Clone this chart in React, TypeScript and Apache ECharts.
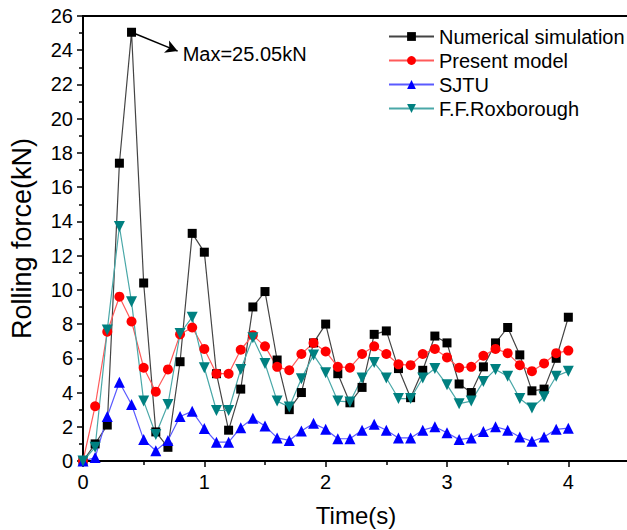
import React, { useEffect, useRef } from "react";
import * as echarts from "echarts";

const times = [
  0, 0.1, 0.2, 0.3, 0.4, 0.5, 0.6, 0.7, 0.8, 0.9, 1.0, 1.1, 1.2, 1.3, 1.4, 1.5, 1.6, 1.7, 1.8, 1.9, 2.0,
  2.1, 2.2, 2.3, 2.4, 2.5, 2.6, 2.7, 2.8, 2.9, 3.0, 3.1, 3.2, 3.3, 3.4, 3.5, 3.6, 3.7, 3.8, 3.9, 4.0,
];

const numericalSimulation = [
  0, 1.0, 2.1, 17.4, 25.05, 10.4, 1.7, 0.8, 5.8, 13.3, 12.2, 5.1, 1.8, 4.2, 9.0, 9.9, 5.9, 3.0, 4.0, 6.9, 8.0,
  5.1, 3.4, 4.3, 7.4, 7.6, 5.4, 3.7, 5.3, 7.3, 6.9, 4.5, 4.0, 5.5, 6.9, 7.8, 6.2, 4.1, 4.2, 6.0, 8.4,
];

const presentModel = [
  0, 3.2, 7.55, 9.6, 8.15, 5.45, 4.05, 5.35, 7.4, 7.8, 6.55, 5.1, 5.1, 6.5, 7.35, 6.7, 5.5, 5.3, 6.25, 6.9, 6.4,
  5.5, 5.45, 6.25, 6.7, 6.25, 5.65, 5.6, 6.25, 6.55, 6.05, 5.45, 5.5, 6.15, 6.55, 6.3, 5.6, 5.25, 5.7, 6.3, 6.45,
];

const sjtu = [
  0, 0.2, 2.6, 4.6, 3.3, 1.25, 0.6, 1.2, 2.6, 2.9, 1.9, 1.1, 1.1, 1.95, 2.5, 2.05, 1.35, 1.2, 1.75, 2.2, 1.85,
  1.3, 1.3, 1.8, 2.15, 1.8, 1.35, 1.35, 1.8, 2.0, 1.65, 1.25, 1.35, 1.72, 2.0, 1.8, 1.4, 1.15, 1.4, 1.85, 1.92,
];

const roxborough = [
  0, 0.8, 7.65, 13.7, 9.3, 3.5, 1.55, 3.3, 7.45, 8.4, 5.45, 2.95, 2.95, 5.35, 7.2, 5.7, 3.5, 3.15, 4.8, 6.2, 5.15,
  3.5, 3.45, 4.85, 5.75, 4.85, 3.65, 3.65, 4.85, 5.4, 4.45, 3.35, 3.5, 4.65, 5.35, 4.95, 3.65, 3.1, 3.75, 4.95, 5.25,
];

const xTickLabels = ["0", "1", "2", "3", "4"];
const seriesNames = ["Numerical simulation", "Present model", "SJTU", "F.F.Roxborough"];
const maxLabel = "Max=25.05kN";
const maxPoint = [0.4, 25.05];
const arrowEnd = [0.78, 23.95];

const FONT = "Liberation Sans, Arial, Helvetica, sans-serif";

const pairs = (vals: number[]) => times.map((t, i) => [t, vals[i]]);

export default function App() {
  const ref = useRef<HTMLDivElement>(null);

  useEffect(() => {
    if (!ref.current) return;
    const chart = echarts.init(ref.current, undefined, { renderer: "svg" });
    const option: any = {
      animation: false,
      backgroundColor: "#ffffff",
      textStyle: { fontFamily: FONT },
      grid: {
        left: 83,
        top: 16,
        width: 546,
        height: 445,
        outerBoundsMode: "none",
        containLabel: false,
        show: true,
        borderColor: "#000",
        borderWidth: 2,
        backgroundColor: "transparent",
      },
      legend: {
        orient: "vertical",
        left: 383,
        top: 21,
        itemWidth: 45,
        itemHeight: 11,
        itemGap: 3,
        selectedMode: false,
        textStyle: { fontSize: 20, color: "#000", fontFamily: FONT, lineHeight: 21 },
        data: seriesNames,
      },
      xAxis: {
        type: "value",
        min: 0,
        max: 4.5,
        interval: 1,
        name: "Time(s)",
        nameLocation: "middle",
        nameGap: 42,
        nameTextStyle: { fontSize: 24, color: "#000", fontFamily: FONT },
        axisLine: { show: true, onZero: false, lineStyle: { color: "#000", width: 2 } },
        axisTick: { show: true, inside: false, length: 6, lineStyle: { color: "#000", width: 1.5 } },
        minorTick: { show: true, splitNumber: 2, length: 4, lineStyle: { color: "#000", width: 1.5 } },
        axisLabel: {
          fontSize: 20,
          color: "#000",
          margin: 11,
          fontFamily: FONT,
          showMaxLabel: false,
          formatter: (v: number) => (xTickLabels.includes(String(v)) ? String(v) : ""),
        },
        splitLine: { show: false },
      },
      yAxis: {
        type: "value",
        min: 0,
        max: 26,
        interval: 2,
        name: "Rolling force(kN)",
        nameLocation: "middle",
        nameGap: 48,
        nameTextStyle: { fontSize: 27, color: "#000", fontFamily: FONT },
        axisLine: { show: true, onZero: false, lineStyle: { color: "#000", width: 2 } },
        axisTick: { show: true, inside: false, length: 6, lineStyle: { color: "#000", width: 1.5 } },
        minorTick: { show: true, splitNumber: 2, length: 4, lineStyle: { color: "#000", width: 1.5 } },
        axisLabel: { fontSize: 20, color: "#000", margin: 10, fontFamily: FONT },
        splitLine: { show: false },
      },
      series: [
        {
          name: seriesNames[0],
          type: "line",
          data: pairs(numericalSimulation),
          symbol: "rect",
          symbolSize: 9,
          showAllSymbol: true,
          itemStyle: { color: "#000" },
          lineStyle: { color: "#444", width: 1.2 },
          markLine: {
            silent: true,
            symbol: ["none", "arrow"],
            symbolSize: [10, 12],
            lineStyle: { color: "#000", width: 1.5, type: "solid" },
            label: { show: false },
            data: [[{ coord: maxPoint }, { coord: arrowEnd }]],
          },
          markPoint: {
            silent: true,
            symbol: "circle",
            symbolSize: 0,
            label: {
              show: true,
              position: "right",
              distance: 5,
              formatter: maxLabel,
              color: "#000",
              fontSize: 20,
              fontFamily: FONT,
            },
            data: [{ coord: [arrowEnd[0], 23.77] }],
          },
        },
        {
          name: seriesNames[1],
          type: "line",
          data: pairs(presentModel),
          symbol: "circle",
          symbolSize: 10,
          showAllSymbol: true,
          itemStyle: { color: "#ff0000" },
          lineStyle: { color: "#ff5a5a", width: 1.2 },
        },
        {
          name: seriesNames[2],
          type: "line",
          data: pairs(sjtu),
          symbol: "triangle",
          symbolSize: 11,
          showAllSymbol: true,
          itemStyle: { color: "#0000ff" },
          lineStyle: { color: "#5a5aff", width: 1.2 },
        },
        {
          name: seriesNames[3],
          type: "line",
          data: pairs(roxborough),
          symbol: "triangle",
          symbolRotate: 180,
          symbolSize: 11,
          showAllSymbol: true,
          itemStyle: { color: "#008080" },
          lineStyle: { color: "#4aa8a8", width: 1.2 },
        },
      ],
    };
    chart.setOption(option);
    return () => chart.dispose();
  }, []);

  return (
    <div
      ref={ref}
      style={{ position: "fixed", left: 0, top: 0, width: 627, height: 530, background: "#fff" }}
    />
  );
}
